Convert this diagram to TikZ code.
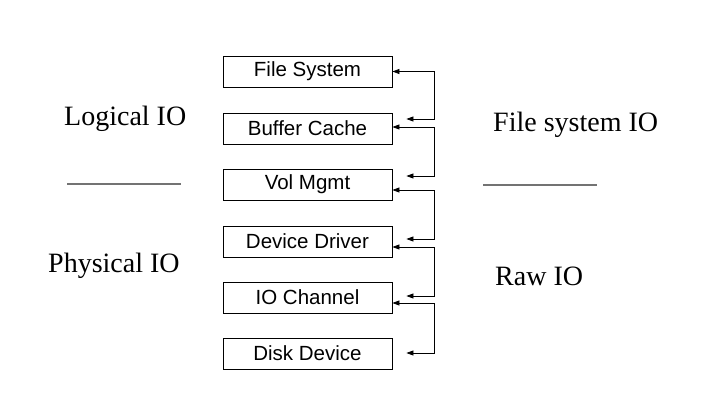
\documentclass[tikz,border=0pt]{standalone}
\usepackage{fontspec}
\setmainfont{Liberation Serif}
\newfontfamily\boxfont{Liberation Sans}
\usetikzlibrary{arrows.meta}
\begin{document}
\begin{tikzpicture}[x=1pt,y=1pt,
  layer/.style={draw=black,line width=0.8pt,minimum width=169pt,minimum height=31pt,inner sep=0pt,
    font=\boxfont\fontsize{20.5}{24}\selectfont},
  lbl/.style={anchor=base west,inner sep=0pt,font=\fontsize{28}{32}\selectfont},
  link/.style={line width=0.8pt,{Triangle[length=7pt,width=5pt]}-{Triangle[length=7pt,width=5pt]}},
  sep/.style={draw=gray!90!black,line width=1.6pt}]
\useasboundingbox (0,0) rectangle (701,410);
\fill[white] (0,0) rectangle (701,410);
\node[layer] (fs)  at (307.5,338.5) {File System};
\node[layer] (bc)  at (307.5,281.5) {Buffer Cache};
\node[layer] (vm)  at (307.5,225.5) {Vol Mgmt};
\node[layer] (dd)  at (307.5,168.5) {Device Driver};
\node[layer] (ioc) at (307.5,112.5) {IO Channel};
\node[layer] (dk)  at (307.5,56.5)  {Disk Device};
\draw[link] (fs.east) -- ++(42,0) |- ([xshift=14pt,yshift=9.5pt]bc.east);
\draw[link] ([yshift=1.5pt]bc.east) -- ++(42,0) |- ([xshift=14pt,yshift=8.5pt]vm.east);
\draw[link] ([yshift=-5.5pt]vm.east) -- ++(42,0) |- ([xshift=14pt,yshift=2.5pt]dd.east);
\draw[link] ([yshift=-5.5pt]dd.east) -- ++(42,0) |- ([xshift=14pt,yshift=1.5pt]ioc.east);
\draw[link] ([yshift=-5.5pt]ioc.east) -- ++(42,0) |- ([xshift=14pt,yshift=0.5pt]dk.east);
\node[lbl] (logical) at (64,284) {Logical IO};
\node[lbl] (fsio) at (493,278) {File system IO};
\node[lbl] (physical) at (48,138) {Physical IO};
\node[lbl] (raw) at (495,125) {Raw IO};
\draw[sep] (67,226) -- (181,226);
\draw[sep] (483,225) -- (597,225);
\end{tikzpicture}
\end{document}
